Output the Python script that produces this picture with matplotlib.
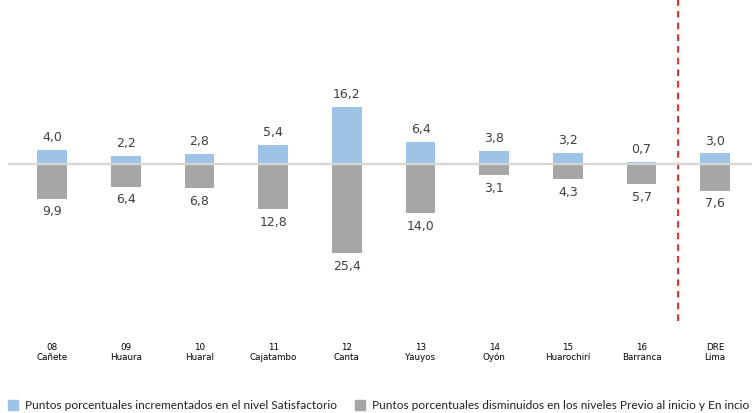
import matplotlib
matplotlib.use("Agg")
import matplotlib.pyplot as plt
import numpy as np
from matplotlib.patches import Rectangle

# datos
codigos = ["08", "09", "10", "11", "12", "13", "14", "15", "16", "DRE"]
nombres = ["Cañete", "Huaura", "Huaral", "Cajatambo", "Canta", "Yauyos", "Oyón", "Huarochirí", "Barranca", "Lima"]
satisfactorio = [4.0, 2.2, 2.8, 5.4, 16.2, 6.4, 3.8, 3.2, 0.7, 3.0]
disminuidos = [9.9, 6.4, 6.8, 12.8, 25.4, 14.0, 3.1, 4.3, 5.7, 7.6]

azul = "#9DC3E6"
gris = "#A6A6A6"

fig = plt.figure(figsize=(7.52, 4.14), dpi=100)
ax = fig.add_axes([8/752, 92/414, 744/752, 322/414])

x = np.arange(len(codigos))
ax.bar(x, satisfactorio, width=0.4, color=azul, zorder=2)
ax.bar(x, [-v for v in disminuidos], width=0.4, color=gris, zorder=2)
ax.axhline(0, color="#D6D6D6", lw=1.6, zorder=3)

def fmt(v):
    return ("%.1f" % v).replace(".", ",")

for i in range(len(x)):
    ax.annotate(fmt(satisfactorio[i]), (x[i], satisfactorio[i]), xytext=(0, 5),
                textcoords="offset points", ha="center", va="bottom", fontsize=9, color="#404040")
    ax.annotate(fmt(disminuidos[i]), (x[i], -disminuidos[i]), xytext=(0, -4),
                textcoords="offset points", ha="center", va="top", fontsize=9, color="#404040")

ax.axvline(8.5, color="#FF0000", lw=1.2, ls=(0, (4, 3)))

ax.set_xlim(-0.6, 9.5)
ax.set_ylim(-44.6, 46.9)
ax.axis("off")

# etiquetas de categoria
for i in range(len(x)):
    ax.text(x[i], -50.6, codigos[i] + "\n" + nombres[i], ha="center", va="top",
            fontsize=6.3, color="#000000", linespacing=1.1)

# leyenda (coordenadas de figura, desde abajo)
y_ley = (414 - 406) / 414
fig.patches.append(Rectangle((8/752, y_ley - 5/414), 10/752, 10/414, transform=fig.transFigure,
                             color=azul, figure=fig))
fig.text(25/752, y_ley, "Puntos porcentuales incrementados en el nivel Satisfactorio",
         fontsize=8.6, va="center", ha="left", color="#222222", family="Lato")
fig.patches.append(Rectangle((355/752, y_ley - 5/414), 10/752, 10/414, transform=fig.transFigure,
                             color=gris, figure=fig))
fig.text(372/752, y_ley, "Puntos porcentuales disminuidos en los niveles Previo al inicio y En incio",
         fontsize=8.6, va="center", ha="left", color="#222222", family="Lato")

fig.savefig("out.png", dpi=100)
